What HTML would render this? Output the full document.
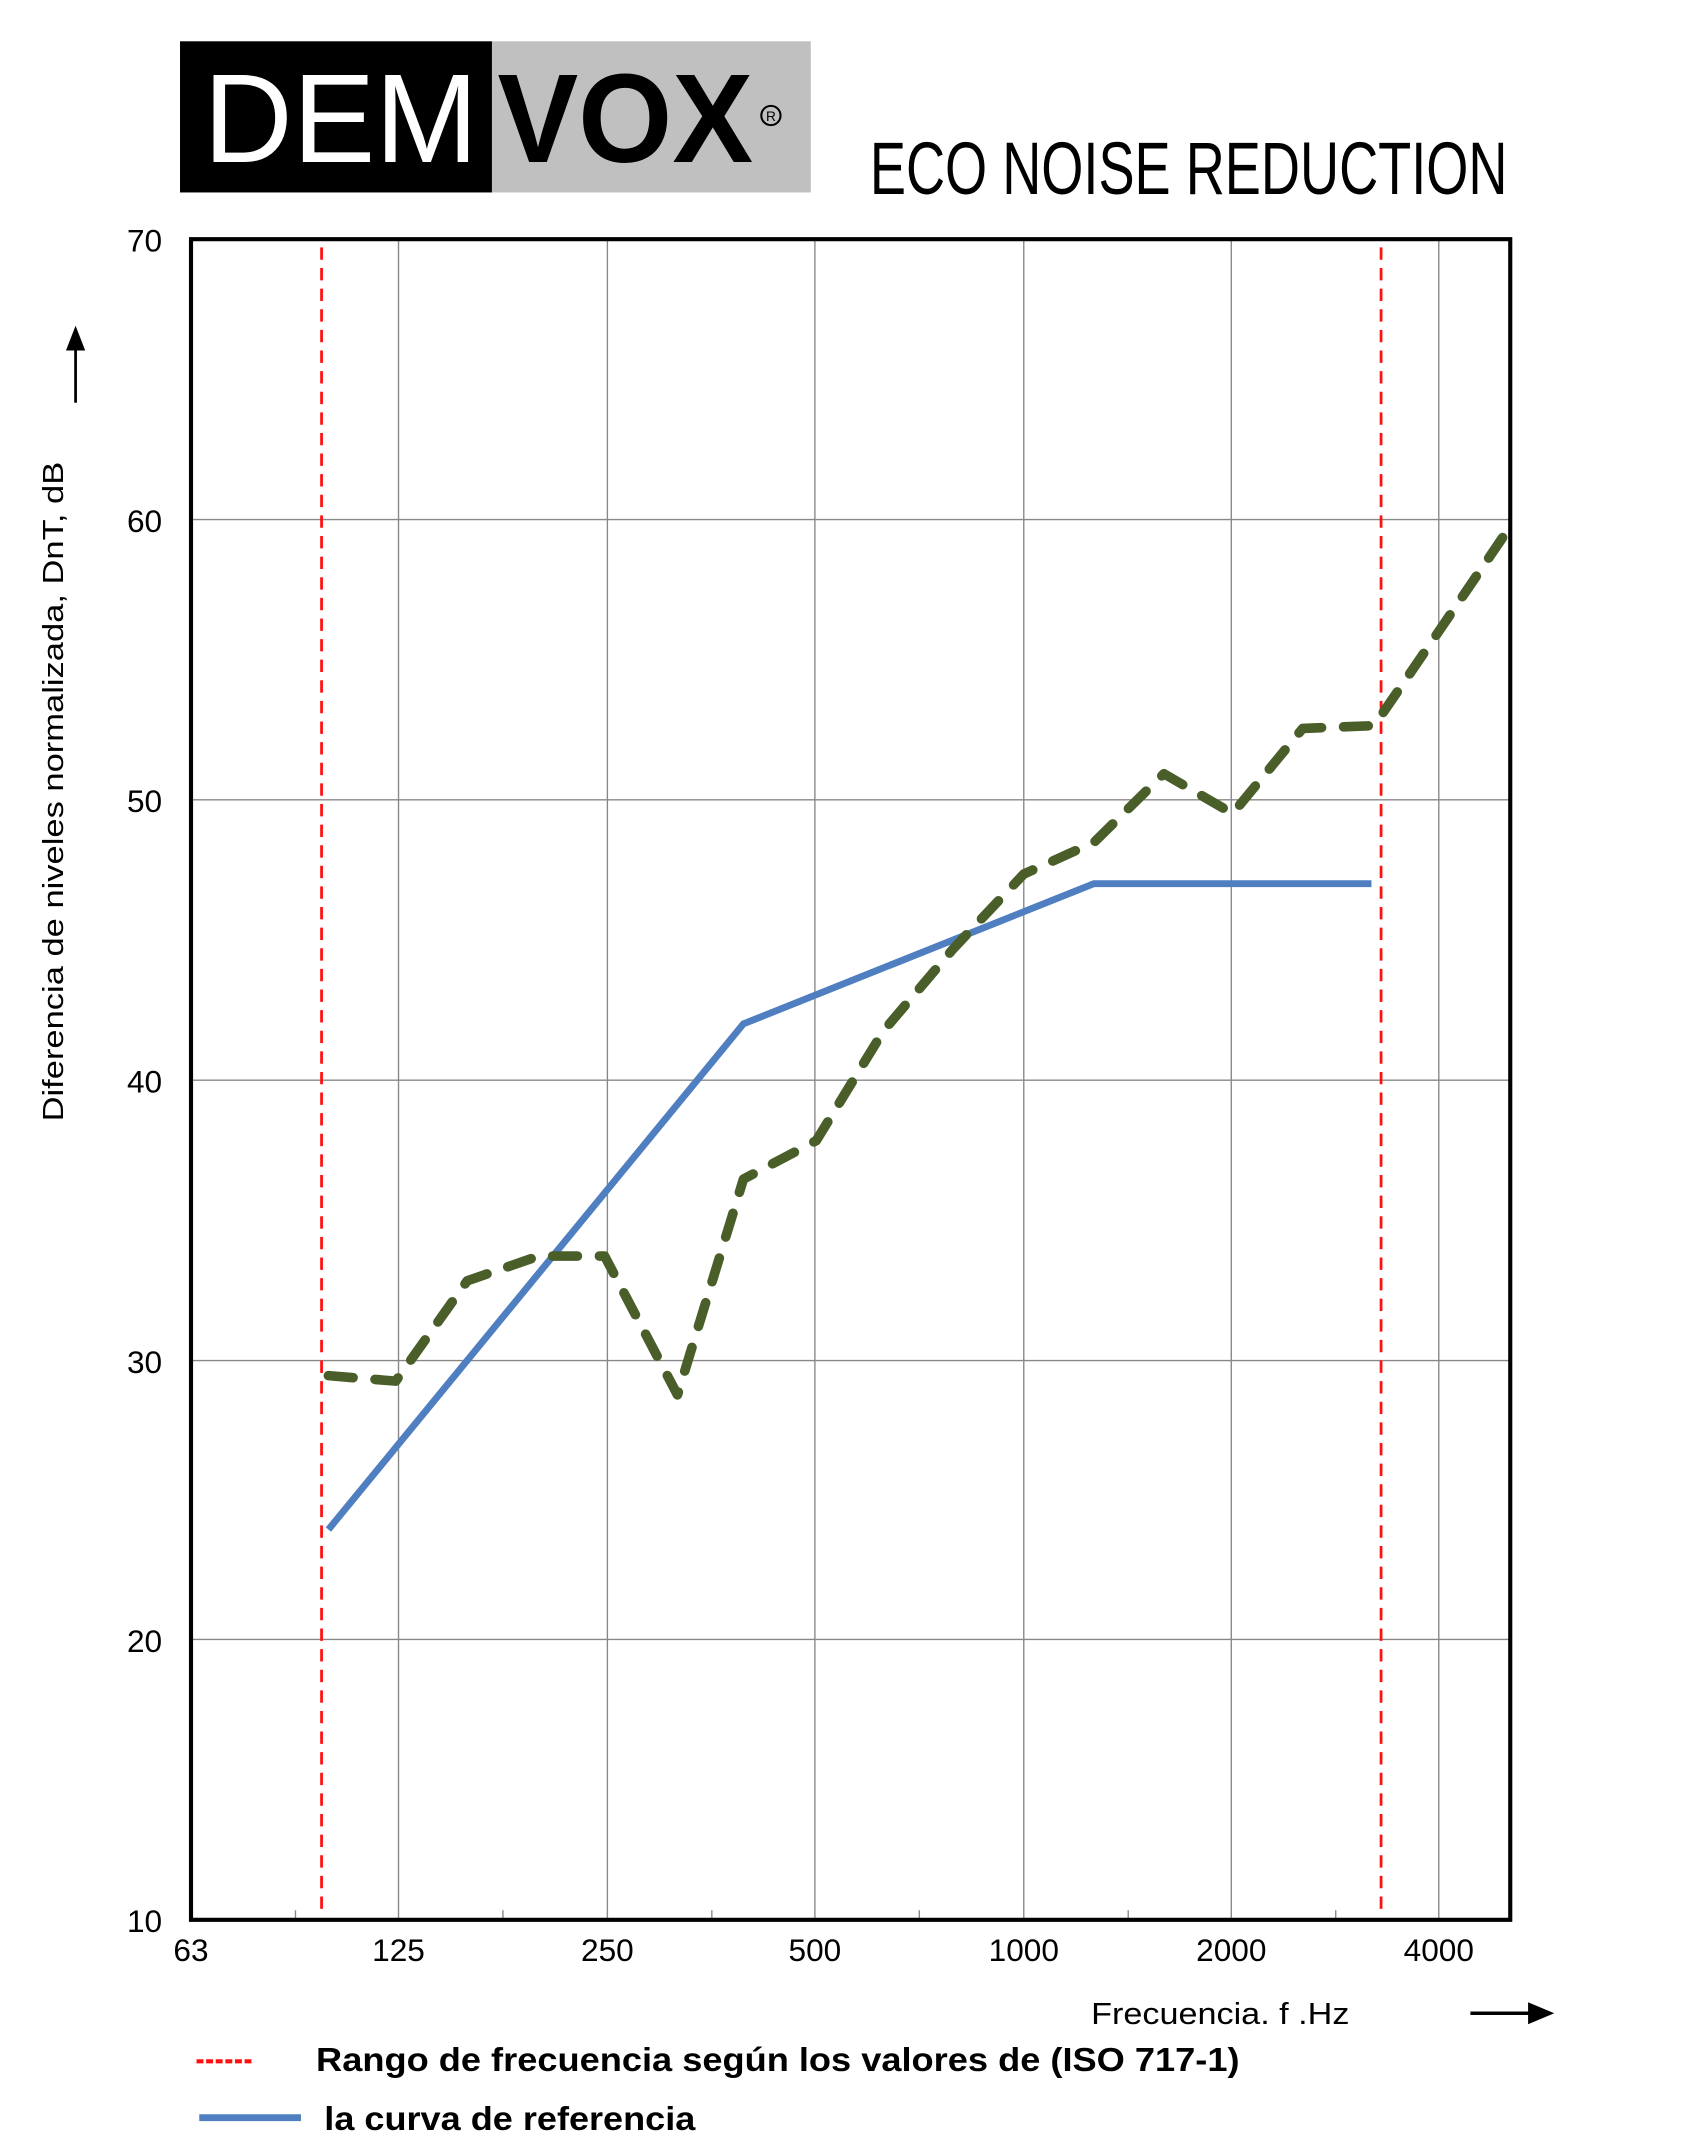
<!DOCTYPE html>
<html><head><meta charset="utf-8"><style>
html,body{margin:0;padding:0;background:#fff}
svg{display:block}
text{font-family:"Liberation Sans",Arial,sans-serif}
</style></head><body>
<svg width="1704" height="2148" viewBox="0 0 1240 1563" xmlns="http://www.w3.org/2000/svg">
<rect width="1240" height="1563" fill="#fff"/>
<rect x="131" y="30" width="227" height="110" fill="#000"/>
<rect x="358" y="30" width="232" height="110" fill="#c0c0c0"/>
<text x="148" y="118" font-size="92" fill="#fff" textLength="200" lengthAdjust="spacingAndGlyphs">DEM</text>
<text x="362" y="118" font-size="92" font-weight="bold" fill="#000" textLength="186" lengthAdjust="spacingAndGlyphs">VOX</text>
<circle cx="561" cy="84" r="7" fill="none" stroke="#000" stroke-width="1.5"/>
<text x="561" y="88" font-size="10" text-anchor="middle">R</text>
<text x="633" y="141" font-size="54" fill="#000" textLength="464" lengthAdjust="spacingAndGlyphs">ECO NOISE REDUCTION</text>
<g stroke="#888" stroke-width="1">
<line x1="290" y1="174" x2="290" y2="1397"/><line x1="442" y1="174" x2="442" y2="1397"/>
<line x1="593" y1="174" x2="593" y2="1397"/><line x1="745" y1="174" x2="745" y2="1397"/>
<line x1="896" y1="174" x2="896" y2="1397"/><line x1="1047" y1="174" x2="1047" y2="1397"/>
<line x1="139" y1="378" x2="1099" y2="378"/><line x1="139" y1="582" x2="1099" y2="582"/>
<line x1="139" y1="786" x2="1099" y2="786"/><line x1="139" y1="990" x2="1099" y2="990"/>
<line x1="139" y1="1193" x2="1099" y2="1193"/>
<line x1="215" y1="1390" x2="215" y2="1397"/><line x1="366" y1="1390" x2="366" y2="1397"/>
<line x1="518" y1="1390" x2="518" y2="1397"/><line x1="669" y1="1390" x2="669" y2="1397"/>
<line x1="821" y1="1390" x2="821" y2="1397"/><line x1="972" y1="1390" x2="972" y2="1397"/>
</g>
<g stroke="#ff1010" stroke-width="2" stroke-dasharray="9,6">
<line x1="234" y1="180" x2="234" y2="1392"/><line x1="1005" y1="180" x2="1005" y2="1392"/>
</g>
<polyline points="239,1113 541,745 796,643 998,643" fill="none" stroke="#4f7fc0" stroke-width="5"/>
<polyline points="239,1001 288,1005 340,932 392,914 440,914 493,1015 541,858 594,830 643,750 694,690 745,636 796,613 847,563 897,592 948,530 1000,528 1050,455 1099,383" fill="none" stroke="#4a5e2a" stroke-width="7" stroke-linecap="round" stroke-linejoin="round" stroke-dasharray="18,16"/>
<rect x="139" y="174" width="960" height="1223" fill="none" stroke="#000" stroke-width="3"/>
<g font-size="23" text-anchor="end" fill="#000">
<text x="118" y="183">70</text><text x="118" y="387">60</text><text x="118" y="591">50</text>
<text x="118" y="795">40</text><text x="118" y="999">30</text><text x="118" y="1202">20</text>
<text x="118" y="1406">10</text>
</g>
<g font-size="23" text-anchor="middle" fill="#000">
<text x="139" y="1427">63</text><text x="290" y="1427">125</text><text x="442" y="1427">250</text>
<text x="593" y="1427">500</text><text x="745" y="1427">1000</text><text x="896" y="1427">2000</text>
<text x="1047" y="1427">4000</text>
</g>
<text transform="translate(46,576) rotate(-90)" font-size="21" text-anchor="middle" textLength="480" lengthAdjust="spacingAndGlyphs">Diferencia de niveles normalizada, DnT, dB</text>
<line x1="55" y1="293" x2="55" y2="252" stroke="#000" stroke-width="2"/>
<polygon points="55,237 48,255 62,255" fill="#000"/>
<text x="794" y="1473" font-size="22" textLength="188" lengthAdjust="spacingAndGlyphs">Frecuencia. f .Hz</text>
<line x1="1070" y1="1465" x2="1115" y2="1465" stroke="#000" stroke-width="2.5"/>
<polygon points="1131,1465 1112,1457 1112,1473" fill="#000"/>
<line x1="143" y1="1500" x2="185" y2="1500" stroke="#ff1010" stroke-width="3" stroke-dasharray="5,2"/>
<text x="230" y="1507" font-size="24" font-weight="bold" textLength="672" lengthAdjust="spacingAndGlyphs">Rango de frecuencia según los valores de (ISO 717-1)</text>
<line x1="145" y1="1541" x2="219" y2="1541" stroke="#4f7fc0" stroke-width="5"/>
<text x="236" y="1550" font-size="24" font-weight="bold" textLength="270" lengthAdjust="spacingAndGlyphs">la curva de referencia</text>
</svg>
</body></html>
